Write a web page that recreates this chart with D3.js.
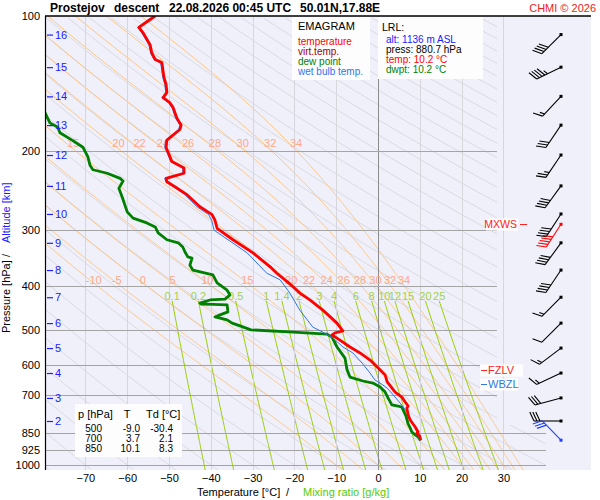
<!DOCTYPE html>
<html>
<head>
<meta charset="utf-8">
<script src="https://cdn.jsdelivr.net/npm/d3@7"></script>
<style>
body { margin: 0; background: #fff; }
svg { display: block; font-family: "Liberation Sans", Arial, sans-serif; }
</style>
</head>
<body>
<svg id="chart" width="600" height="500"></svg>
<script>
// Perfiles del sondeo (presion hPa / temperatura C)
const tempP = [100,103,106,109,116,121,125,127,137,142,148,152,156,160,169,175,179,189,196,211,218,224,227,230,234,240,250,266,277,285,297,315,337,362,374,395,414,429,452,483,493,503,508,513,527,546,563,584,605,621,630,653,688,706,724,739,747,774,794,823,844,850,862,881];
const tempT = [-53.3,-55.3,-57.2,-56.2,-54.5,-54.1,-53.3,-51.7,-51.2,-50.7,-50.5,-51.4,-49.8,-49.0,-48.1,-47.1,-47.4,-50.5,-50.7,-49.3,-46.4,-46.4,-48.6,-50.7,-50.5,-48.6,-45.7,-42.6,-39.7,-39.0,-38.5,-34.7,-29.9,-25.8,-24.2,-21.1,-18.7,-16.3,-13.2,-9.8,-9.1,-8.4,-10.3,-11.0,-9.1,-6.7,-4.3,-1.9,-0.2,1.0,1.7,2.2,4.1,5.7,6.5,7.2,6.9,7.2,7.7,8.9,9.6,9.3,10.0,10.2];

const dewP = [164,173,177,182,189,196,206,215,220,224,230,233,242,253,273,282,289,295,304,315,320,327,335,344,346,359,368,377,393,408,418,427,429,436,438,439,440,456,463,468,475,483,490,500,506,511,519,546,578,614,637,650,657,670,688,709,735,739,743,778,810,827,844,857,866,876,881];
const dewT = [-79.7,-78.5,-76.6,-76.1,-73.2,-70.6,-69.4,-68.9,-68.2,-64.8,-61.7,-61.0,-62.0,-61.2,-60.0,-58.6,-55.3,-53.3,-52.6,-50.5,-47.8,-46.7,-46.2,-45.5,-44.5,-45.0,-44.3,-39.5,-38.5,-36.1,-35.4,-36.6,-40.2,-42.6,-42.3,-39.5,-36.1,-35.9,-37.8,-39.0,-36.1,-34.9,-33.0,-30.4,-20.3,-12.2,-11.0,-9.8,-7.9,-7.4,-6.7,-3.6,-1.2,0.5,1.7,2.4,3.3,4.8,5.7,6.7,7.2,7.7,8.1,8.9,9.6,10.0,10.2];

const wetP = [100,103,106,109,116,121,125,127,137,142,148,152,156,160,169,175,179,189,196,211,218,224,227,230,234,240,250,266,277,285,300,337,374,387,414,452,493,506,519,546,563,593,624,647,657,674,706,728,743,766,802,827,857,876,881];
const wetT = [-53.6,-55.6,-57.5,-56.5,-54.8,-54.4,-53.6,-52.0,-51.5,-51.0,-50.8,-51.7,-50.1,-49.3,-48.4,-47.4,-47.7,-50.8,-51.0,-49.6,-46.7,-46.7,-48.9,-51.0,-50.8,-48.9,-46.2,-43.3,-40.5,-39.8,-39.2,-31.3,-26.6,-23.4,-21.1,-18.7,-15.6,-13.2,-11.0,-8.4,-6.0,-3.8,-1.9,-0.7,0.5,2.2,4.1,5.3,6.0,7.2,8.1,8.9,9.6,10.0,10.2];

// altitudes (km) y viento en cada km
const altKm = [2,3,4,5,6,7,8,9,10,11,12,13,14,15,16];
const altP = [798,709,624,549,483,423,368,320,276,239,204,175,151,130,110];
const windDir = [270,255,245,233,225,225,214,216,213,216,214,214,223,244,225];
const windSpd = [30,30,15,15,10,15,40,40,40,40,25,30,15,45,40];

// ejes y lineas auxiliares
const pressLevels = [100,200,300,400,500,600,700,850,925,1000];
const tempTicks = [-70,-60,-50,-40,-30,-20,-10,0,10,20,30];
const dryTheta = d3.range(-90, 330, 10);
const moistThw = [-10,-5,0,5,10,15,20,22,24,26,28,30,32,34];
const mixRatio = [0.1,0.2,0.5,1,1.4,2,3,4,6,8,10,12,15,20,25];

// niveles especiales
const levelNames = ["MXWS","FZLV","WBZL"];
const levelP = [291,613,660];
const mxwsDir = 213, mxwsSpd = 50;
const lrlP = 880.7, lrlAlt = 1136, lrlTemp = 10.2, lrlDwpt = 10.2;
const lrlDir = 316, lrlSpd = 30;

// tabla
const tableP = [500,700,850];
const tableT = [-9.0,3.7,10.1];
const tableTd = [-30.4,2.1,8.3];

const WIDTH = 600, HEIGHT = 500;
const plot = { left: 45, top: 16, right: 591, bottom: 470 };

const svg = d3.select("#chart").attr("width", WIDTH).attr("height", HEIGHT);

const x = d3.scaleLinear().domain([-70, 30]).range([85.4, 503.4]);
const y = d3.scaleLog().domain([100, 1000]).range([16, 465]);
const pBottom = y.invert(plot.bottom);

const defs = svg.append("defs");
defs.append("clipPath").attr("id", "guideClip").append("polygon")
    .attr("points", [[45,16],[497,16],[497,425],[546,425],[546,470],[45,470]].join(" "));
defs.append("clipPath").attr("id", "plotClip").append("rect")
    .attr("x", plot.left).attr("y", plot.top)
    .attr("width", plot.right - plot.left).attr("height", plot.bottom - plot.top);

// fondo
svg.append("rect").attr("x", plot.left).attr("y", plot.top)
    .attr("width", plot.right - plot.left).attr("height", plot.bottom - plot.top)
    .attr("fill", "#f0f0fb");

const lineGen = d3.line().x(d => x(d[1])).y(d => y(d[0]));

// termodinamica para las curvas guia
const Rd = 287.04, Cp = 1005.7, Lv = 2.501e6, EPS = 0.622;
const esat = tc => 6.112 * Math.exp(17.67 * tc / (tc + 243.5));
const moistLapse = (p, tk) => {
    const e = esat(tk - 273.15);
    const rs = EPS * e / (p - e);
    return (Rd * tk + Lv * rs) / (p * (Cp + Lv * Lv * rs * EPS / (Rd * tk * tk)));
};
const moistPath = thw => {
    const up = [], down = [];
    let tk = thw + 273.15;
    for (let p = 1000; p >= 100; p -= 1) {
        up.push([p, tk - 273.15]);
        const k1 = moistLapse(p, tk);
        tk -= moistLapse(p - 0.5, tk - 0.5 * k1);
    }
    tk = thw + 273.15;
    for (let p = 1000; p <= pBottom + 1; p += 1) {
        const k1 = moistLapse(p, tk);
        tk += moistLapse(p + 0.5, tk + 0.5 * k1);
        down.push([p + 1, tk - 273.15]);
    }
    return down.reverse().concat(up);
};
const tAt = (path, p) => {
    let best = path[0];
    path.forEach(d => { if (Math.abs(d[0] - p) < Math.abs(best[0] - p)) best = d; });
    return best[1];
};

const guides = svg.append("g").attr("clip-path", "url(#guideClip)");

// adiabaticas secas
const pSteps = d3.range(Math.ceil(pBottom), 99, -5);
guides.selectAll(".dry")
    .data(dryTheta)
    .join("path")
    .attr("class", "dry")
    .attr("d", th => lineGen(pSteps.map(p => [p, (th + 273.15) * Math.pow(p / 1000, 0.2857) - 273.15])))
    .attr("fill", "none")
    .attr("stroke", "#d9d9e0")
    .attr("stroke-width", 1);

// pseudoadiabaticas
const moistPaths = moistThw.map(moistPath);
guides.selectAll(".moist")
    .data(moistPaths)
    .join("path")
    .attr("class", "moist")
    .attr("d", lineGen)
    .attr("fill", "none")
    .attr("stroke", "#ffc37a")
    .attr("stroke-width", 1);

// razon de mezcla
const mixPath = w => d3.range(Math.ceil(pBottom), 429, -5).map(p => {
    const e = w * p / (622 + w);
    const l = Math.log(e / 6.112);
    return [p, 243.5 * l / (17.67 - l)];
});
guides.selectAll(".mix")
    .data(mixRatio)
    .join("path")
    .attr("class", "mix")
    .attr("d", w => lineGen(mixPath(w)))
    .attr("fill", "none")
    .attr("stroke", "#99cc00")
    .attr("stroke-width", 1);

// isotermas
svg.selectAll(".iso")
    .data(tempTicks)
    .join("line")
    .attr("class", "iso")
    .attr("x1", d => Math.round(x(d)) + 0.5).attr("x2", d => Math.round(x(d)) + 0.5)
    .attr("y1", plot.top).attr("y2", plot.bottom)
    .attr("stroke", d => d === 0 ? "#8c8c8c" : "#d6d6dc")
    .attr("stroke-width", 1);

// lineas de presion
svg.selectAll(".pline")
    .data(pressLevels.filter(p => p > 100))
    .join("line")
    .attr("class", "pline")
    .attr("x1", plot.left)
    .attr("x2", p => p >= 850 ? 546 : 497)
    .attr("y1", p => Math.round(y(p)) + 0.5).attr("y2", p => Math.round(y(p)) + 0.5)
    .attr("stroke", "#a4a4a4")
    .attr("stroke-width", 1);

// etiquetas de pseudoadiabaticas (un poco corridas a la derecha como en el original)
const moistLabels = [];
[[192, 7], [387, 4]].forEach(([pl, shift]) => {
    moistThw.forEach((th, i) => {
        const t = tAt(moistPaths[i], pl);
        if (x(t) > 52 && x(t) < 495) moistLabels.push({ p: pl, t: t, dx: shift, txt: th });
    });
});
svg.selectAll(".mlab")
    .data(moistLabels)
    .join("text")
    .attr("class", "mlab")
    .attr("x", d => x(d.t) + d.dx)
    .attr("y", d => y(d.p))
    .attr("dy", "0.35em")
    .attr("text-anchor", "middle")
    .attr("font-size", 11)
    .attr("fill", "#ffa785")
    .text(d => d.txt);

// etiquetas de razon de mezcla
svg.selectAll(".wlab")
    .data(mixRatio)
    .join("text")
    .attr("class", "wlab")
    .attr("x", w => x(mixPath(w).slice(-1)[0][1]))
    .attr("y", y(420))
    .attr("dy", "0.35em")
    .attr("text-anchor", "middle")
    .attr("font-size", 11)
    .attr("fill", "#9fd24a")
    .text(w => w);

// perfiles
const profiles = svg.append("g").attr("clip-path", "url(#plotClip)");
profiles.append("path").datum(d3.zip(dewP, dewT))
    .attr("d", lineGen).attr("fill", "none")
    .attr("stroke", "#008000").attr("stroke-width", 2.8).attr("stroke-linejoin", "round");
profiles.append("path").datum(d3.zip(wetP, wetT))
    .attr("d", lineGen).attr("fill", "none")
    .attr("stroke", "#2f74f0").attr("stroke-width", 1);
profiles.append("path").datum(d3.zip(tempP, tempT))
    .attr("d", lineGen).attr("fill", "none")
    .attr("stroke", "#ff0000").attr("stroke-width", 2.8).attr("stroke-linejoin", "round");

// leyenda EMAGRAM
svg.append("rect").attr("x", 292).attr("y", 17).attr("width", 78).attr("height", 63).attr("fill", "#fdfdfd");
svg.append("text").attr("x", 298).attr("y", 30).attr("font-size", 11).text("EMAGRAM");
const legendNames = ["temperature", "virt.temp.", "dew point", "wet bulb temp."];
const legendColors = ["#ff0000", "#a00000", "#008000", "#2f74f0"];
svg.selectAll(".leg")
    .data(legendNames)
    .join("text")
    .attr("class", "leg")
    .attr("x", 298)
    .attr("y", (d, i) => 45 + i * 10)
    .attr("font-size", 10)
    .attr("fill", (d, i) => legendColors[i])
    .text(d => d);

// caja LRL
svg.append("rect").attr("x", 378).attr("y", 17).attr("width", 105).attr("height", 62).attr("fill", "#fdfdfd");
svg.append("text").attr("x", 382).attr("y", 31).attr("font-size", 10.5).text("LRL:");
const lrlLines = [
    [`alt: ${lrlAlt} m ASL`, "#2020ff"],
    [`press: ${lrlP.toFixed(1)} hPa`, "#000"],
    [`temp: ${lrlTemp.toFixed(1)} \u00b0C`, "#ff0000"],
    [`dwpt: ${lrlDwpt.toFixed(1)} \u00b0C`, "#008000"]
];
svg.selectAll(".lrl")
    .data(lrlLines)
    .join("text")
    .attr("class", "lrl")
    .attr("x", 386)
    .attr("y", (d, i) => 43 + i * 10)
    .attr("font-size", 10)
    .attr("fill", d => d[1])
    .text(d => d[0]);

// tabla
svg.append("rect").attr("x", 75).attr("y", 404).attr("width", 107).attr("height", 53).attr("fill", "#fdfdfd");
svg.append("text").attr("x", 78).attr("y", 418).attr("font-size", 11).text("p [hPa]");
svg.append("text").attr("x", 127).attr("y", 418).attr("font-size", 11).attr("text-anchor", "middle").text("T");
svg.append("text").attr("x", 146).attr("y", 418).attr("font-size", 11).text("Td [\u00b0C]");
const rows = svg.selectAll(".row").data(tableP).join("g").attr("class", "row")
    .attr("transform", (d, i) => `translate(0, ${432 + i * 10})`);
rows.append("text").attr("x", 102).attr("text-anchor", "end").attr("font-size", 10).text(d => d);
rows.append("text").attr("x", 140).attr("text-anchor", "end").attr("font-size", 10).text((d, i) => tableT[i].toFixed(1));
rows.append("text").attr("x", 173).attr("text-anchor", "end").attr("font-size", 10).text((d, i) => tableTd[i].toFixed(1));

// niveles MXWS / FZLV / WBZL
const levelColors = ["#ff2020", "#ff2020", "#3377dd"];
levelNames.forEach((name, i) => {
    const yy = Math.round(y(levelP[i])) + 0.5;
    const g = svg.append("g");
    if (name === "MXWS") {
        g.append("rect").attr("x", 486).attr("y", yy - 6).attr("width", 32).attr("height", 12).attr("fill", "#fdfdfd");
        g.append("text").attr("x", 517).attr("y", yy).attr("dy", "0.36em").attr("text-anchor", "end")
            .attr("font-size", 10.5).attr("fill", levelColors[i]).text(name);
        g.append("line").attr("x1", 520).attr("x2", 527).attr("y1", yy).attr("y2", yy)
            .attr("stroke", levelColors[i]);
    } else {
        g.append("rect").attr("x", 480).attr("y", yy - 6).attr("width", name === "FZLV" ? 43 : 38).attr("height", 12).attr("fill", "#fdfdfd");
        g.append("line").attr("x1", 481).attr("x2", 487).attr("y1", yy).attr("y2", yy)
            .attr("stroke", levelColors[i]);
        g.append("text").attr("x", 488).attr("y", yy).attr("dy", "0.36em")
            .attr("font-size", 11).attr("fill", levelColors[i]).text(name);
    }
});

// barbas de viento
const barbX = 561;
const drawBarb = (g, cy, dir, spd, color, side) => {
    const a = dir * Math.PI / 180;
    const ux = Math.sin(a), uy = -Math.cos(a);
    const rx = -uy * side, ry = ux * side;
    const L = 27, B = 10, gap = 3;
    const ex = barbX + L * ux, ey = cy + L * uy;
    g.append("line").attr("x1", barbX).attr("y1", cy).attr("x2", ex).attr("y2", ey)
        .attr("stroke", color).attr("stroke-width", 1.1);
    g.append("rect").attr("x", barbX - 1.5).attr("y", cy - 1.5).attr("width", 3).attr("height", 3).attr("fill", color);
    const n10 = Math.floor(spd / 10);
    const n5 = spd % 10 >= 5 ? 1 : 0;
    const dx = rx * 0.906 + ux * 0.423, dy = ry * 0.906 + uy * 0.423;
    let k = 0;
    for (let i = 0; i < n10; i++, k++) {
        const sx = ex - k * gap * ux, sy = ey - k * gap * uy;
        g.append("line").attr("x1", sx).attr("y1", sy).attr("x2", sx + B * dx).attr("y2", sy + B * dy)
            .attr("stroke", color).attr("stroke-width", 1.1);
    }
    if (n5) {
        if (k === 0) k = 1;
        const sx = ex - k * gap * ux, sy = ey - k * gap * uy;
        g.append("line").attr("x1", sx).attr("y1", sy).attr("x2", sx + B * 0.5 * dx).attr("y2", sy + B * 0.5 * dy)
            .attr("stroke", color).attr("stroke-width", 1.1);
    }
};
const barbs = svg.append("g");
altKm.forEach((km, i) => drawBarb(barbs.append("g"), y(altP[i]), windDir[i], windSpd[i], "#000", 1));
drawBarb(barbs.append("g"), y(levelP[0]), mxwsDir, mxwsSpd, "#ff0000", 1);
drawBarb(barbs.append("g"), y(lrlP), lrlDir, lrlSpd, "#1f3fff", -1);

// ejes
svg.append("line").attr("x1", plot.left + 0.5).attr("x2", plot.left + 0.5)
    .attr("y1", plot.top).attr("y2", plot.bottom).attr("stroke", "#000").attr("stroke-width", 1.2);
svg.append("line").attr("x1", plot.left).attr("x2", plot.right)
    .attr("y1", plot.top).attr("y2", plot.top).attr("stroke", "#000").attr("stroke-width", 1.5);

const yAxis = svg.append("g")
    .attr("transform", `translate(${plot.left}, 0)`)
    .call(d3.axisLeft(y).tickValues(pressLevels).tickFormat(d3.format("d")).tickSize(0).tickPadding(5));
yAxis.select(".domain").remove();
yAxis.selectAll("text").attr("font-size", 11).attr("font-family", "Liberation Sans, Arial, sans-serif").attr("fill", "#000");

const xAxis = svg.append("g")
    .attr("transform", `translate(0, ${plot.bottom})`)
    .call(d3.axisBottom(x).tickValues(tempTicks).tickSize(0).tickPadding(4));
xAxis.select(".domain").remove();
xAxis.selectAll("text").attr("font-size", 11).attr("font-family", "Liberation Sans, Arial, sans-serif").attr("fill", "#000");

// altitud
const altG = svg.selectAll(".alt").data(altKm).join("g").attr("class", "alt")
    .attr("transform", (d, i) => `translate(0, ${y(altP[i])})`);
altG.append("line").attr("x1", 47).attr("x2", 53).attr("y1", 0.5).attr("y2", 0.5)
    .attr("stroke", "#2020ff").attr("stroke-width", 1.2);
altG.append("text").attr("x", 55).attr("dy", "0.36em").attr("font-size", 11)
    .attr("fill", "#2020ff").text(d => d);

// titulos de ejes
svg.append("text").attr("transform", "translate(10, 333) rotate(-90)").attr("font-size", 11).text("Pressure [hPa]");
svg.append("text").attr("transform", "translate(10, 257) rotate(-90)").attr("font-size", 11).text("/");
svg.append("text").attr("transform", "translate(10, 243) rotate(-90)").attr("font-size", 11)
    .attr("fill", "#2020ff").text("Altitude [km]");

svg.append("text").attr("x", 197).attr("y", 496).attr("font-size", 11).text("Temperature [\u00b0C]");
svg.append("text").attr("x", 286).attr("y", 496).attr("font-size", 11).text("/");
svg.append("text").attr("x", 303).attr("y", 496).attr("font-size", 11).attr("fill", "#55cc00").text("Mixing ratio [g/kg]");

// titulo
const titleParts = [["Prostejov", 50], ["descent", 114], ["22.08.2026 00:45 UTC", 169], ["50.01N,17.88E", 300]];
svg.selectAll(".ttl").data(titleParts).join("text").attr("class", "ttl")
    .attr("x", d => d[1]).attr("y", 12)
    .attr("font-size", 12).attr("font-weight", "bold")
    .text(d => d[0]);
svg.append("text").attr("x", 596).attr("y", 12).attr("text-anchor", "end")
    .attr("font-size", 11).attr("fill", "#ee2020").text("CHMI \u00a9 2026");
</script>
</body>
</html>
